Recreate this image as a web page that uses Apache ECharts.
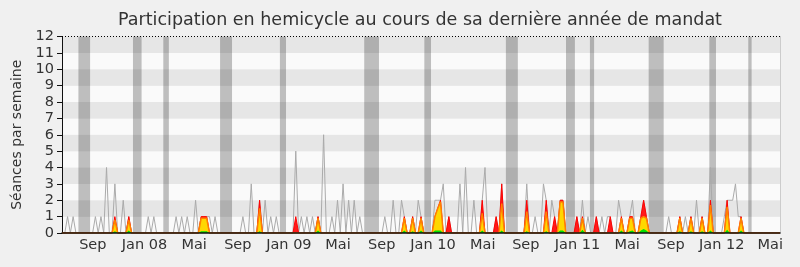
<!DOCTYPE html>
<html>
<head>
<meta charset="utf-8">
<script src="https://cdn.jsdelivr.net/npm/echarts@6/dist/echarts.min.js"></script>
<style>
html,body{margin:0;padding:0;background:#f0f0f0;}
#c{width:800px;height:267px;}
</style>
</head>
<body>
<div id="c"></div>
<script>
// ---- data (one value per week, week 0 = first week of the period) ----
const seancesTotal = [
/*0*/   0,0,1,0,1,0,0,0,0,0, 0,0,1,0,1,0,4,0,0,3,
/*20*/  0,0,2,0,1,0,0,0,0,0, 0,1,0,1,0,0,0,0,0,0,
/*40*/  0,1,0,1,0,1,0,0,2,0, 1,1,1,1,0,1,0,0,0,0,
/*60*/  0,0,0,0,0,1,0,0,3,0, 0,2,0,2,0,1,0,1,0,0,
/*80*/  0,0,0,0,5,0,1,0,1,0, 1,0,1,0,6,0,0,1,0,2,
/*100*/ 0,3,0,2,0,2,0,1,0,0, 0,0,0,0,0,0,1,0,0,2,
/*120*/ 0,0,2,1,0,0,1,0,2,1, 0,0,0,0,2,2,2,3,0,1,
/*140*/ 0,0,0,3,0,4,0,0,2,0, 0,2,4,0,0,0,1,0,3,0,
/*160*/ 0,0,0,0,0,0,0,3,0,0, 1,0,0,3,2,0,2,1,0,2,
/*180*/ 2,0,0,0,0,1,0,2,0,1, 0,0,1,0,1,0,1,1,0,0,
/*200*/ 2,1,0,0,1,2,0,0,1,2, 1,0,0,0,0,0,0,0,1,0,
/*220*/ 0,0,1,0,1,0,1,0,2,0, 1,0,0,4,0,0,0,0,1,2,
/*240*/ 2,2,3,1,1,0,0,0,0,0, 0,0,0,0,0,0,0,0,0
];
const presences = [
/*0*/   0,0,0,0,0,0,0,0,0,0, 0,0,0,0,0,0,0,0,0,1,
/*20*/  0,0,0,0,1,0,0,0,0,0, 0,0,0,0,0,0,0,0,0,0,
/*40*/  0,0,0,0,0,0,0,0,0,0, 1,1,1,0,0,0,0,0,0,0,
/*60*/  0,0,0,0,0,0,0,0,0,0, 0,2,0,0,0,0,0,0,0,0,
/*80*/  0,0,0,0,1,0,0,0,0,0, 0,0,1,0,0,0,0,0,0,0,
/*100*/ 0,0,0,0,0,0,0,0,0,0, 0,0,0,0,0,0,0,0,0,0,
/*120*/ 0,0,0,1,0,0,1,0,0,1, 0,0,0,0,1,1.5,2,0,0,1,
/*140*/ 0,0,0,0,0,0,0,0,0,0, 0,2,0,0,0,0,1,0,3,0,
/*160*/ 0,0,0,0,0,0,0,2,0,0, 0,0,0,0,2,0,0,1,0,2,
/*180*/ 2,0,0,0,0,1,0,1,0,0, 0,0,1,0,0,0,0,1,0,0,
/*200*/ 0,1,0,0,1,1,0,0,1,2, 1,0,0,0,0,0,0,0,0,0,
/*220*/ 0,0,1,0,0,0,1,0,0,0, 1,0,0,2,0,0,0,0,0,2,
/*240*/ 0,0,0,0,1,0,0,0,0,0, 0,0,0,0,0,0,0,0,0
];
const participations = [
/*0*/   0,0,0,0,0,0,0,0,0,0, 0,0,0,0,0,0,0,0,0,0.8,
/*20*/  0,0,0,0,0.8,0,0,0,0,0, 0,0,0,0,0,0,0,0,0,0,
/*40*/  0,0,0,0,0,0,0,0,0,0, 0.9,0.9,0.9,0,0,0,0,0,0,0,
/*60*/  0,0,0,0,0,0,0,0,0,0, 0,1.5,0,0,0,0,0,0,0,0,
/*80*/  0,0,0,0,0,0,0,0,0,0, 0,0,0.9,0,0,0,0,0,0,0,
/*100*/ 0,0,0,0,0,0,0,0,0,0, 0,0,0,0,0,0,0,0,0,0,
/*120*/ 0,0,0,0.9,0,0,0.9,0,0,0.9, 0,0,0,0,1,1.5,1.9,0,0,0,
/*140*/ 0,0,0,0,0,0,0,0,0,0, 0,1.2,0,0,0,0,0,0,1.8,0,
/*160*/ 0,0,0,0,0,0,0,1.3,0,0, 0,0,0,0,1.3,0,0,0,0,1.9,
/*180*/ 1.9,0,0,0,0,0,0,0.9,0,0, 0,0,0,0,0,0,0,0,0,0,
/*200*/ 0,0.9,0,0,0.9,0.9,0,0,0.9,1, 0.9,0,0,0,0,0,0,0,0,0,
/*220*/ 0,0,0.9,0,0,0,0.9,0,0,0, 0.9,0,0,1.7,0,0,0,0,0,1.6,
/*240*/ 0,0,0,0,0.9,0,0,0,0,0, 0,0,0,0,0,0,0,0,0
];
const questions = [
/*0*/   0,0,0,0,0,0,0,0,0,0, 0,0,0,0,0,0,0,0,0,0.1,
/*20*/  0,0,0,0,0.15,0,0,0,0,0, 0,0,0,0,0,0,0,0,0,0,
/*40*/  0,0,0,0,0,0,0,0,0,0, 0.1,0.1,0.1,0,0,0,0,0,0,0,
/*60*/  0,0,0,0,0,0,0,0,0,0, 0,0.1,0,0,0,0,0,0,0,0,
/*80*/  0,0,0,0,0,0,0,0,0,0, 0,0,0.15,0,0,0,0,0,0,0,
/*100*/ 0,0,0,0,0,0,0,0,0,0, 0,0,0,0,0,0,0,0,0,0,
/*120*/ 0,0,0,0.15,0,0,0.1,0,0,0.15, 0,0,0,0,0.15,0.15,0.15,0,0,0,
/*140*/ 0,0,0,0,0,0,0,0,0,0, 0,0.15,0,0,0,0,0,0,0.15,0,
/*160*/ 0,0,0,0,0,0,0,0.1,0,0, 0,0,0,0,0.1,0,0,0,0,0.15,
/*180*/ 0.15,0,0,0,0,0,0,0.2,0,0, 0,0,0,0,0,0,0,0,0,0,
/*200*/ 0,0.15,0,0,0.1,0.15,0,0,0.15,0.25, 0.15,0,0,0,0,0,0,0,0,0,
/*220*/ 0,0,0.1,0,0,0,0.1,0,0,0, 0.1,0,0,0.15,0,0,0,0,0,0.2,
/*240*/ 0,0,0,0,0.15,0,0,0,0,0, 0,0,0,0,0,0,0,0,0
];
// parliamentary holidays (start week, end week)
const vacances = [
  [5.9,10.1],[25.5,28.6],[36.4,38.4],[56.8,61.1],[78.3,80.5],[108.6,113.9],
  [130.2,132.6],[159.5,163.8],[181.1,184.3],[189.7,191.2],[210.8,216.2],
  [232.6,235.0],[246.6,247.8]
];
// x tick labels (position in weeks, text)
const tickWeeks = [11.07,29.64,47.50,63.17,81.53,99.17,114.88,133.31,151.21,166.66,185.23,203.09,218.83,237.05,254.52];
const tickLabels = ['Sep','Jan 08','Mai','Sep','Jan 09','Mai','Sep','Jan 10','Mai','Sep','Jan 11','Mai','Sep','Jan 12','Mai'];
const yMax = 12;
const nWeeks = 258;

const FONT = 'DejaVu Sans';
const toPairs = a => a.map((v,i)=>[i,v]);

const chart = echarts.init(document.getElementById('c'), null, {renderer:'canvas'});
chart.setOption({
  backgroundColor:'#f0f0f0',
  animation:false,
  title:{
    text:'Participation en hemicycle au cours de sa dernière année de mandat',
    left:415, top:6, textAlign:'center',
    textStyle:{fontFamily:FONT, fontSize:17.5, fontWeight:'normal', color:'#333'}
  },
  grid:{left:62, right:20, top:36.5, bottom:34, containLabel:false},
  xAxis:{
    type:'value', min:0, max:nWeeks, z:10,
    axisLine:{show:true, lineStyle:{color:'#111', width:1.5}},
    axisTick:{show:false},
    splitLine:{show:false},
    axisLabel:{
      customValues:tickWeeks, margin:5,
      fontFamily:FONT, fontSize:14.5, color:'#333',
      formatter:function(v){
        let best=0, d=1e9;
        tickWeeks.forEach((t,i)=>{ if(Math.abs(t-v)<d){d=Math.abs(t-v);best=i;} });
        return tickLabels[best];
      }
    }
  },
  yAxis:[{
    type:'value', min:0, max:yMax, interval:1, z:0,
    name:'Séances par semaine', nameLocation:'middle', nameGap:37,
    nameTextStyle:{fontFamily:FONT, fontSize:14, color:'#333'},
    axisLine:{show:true, lineStyle:{color:'#111', width:1}},
    axisTick:{show:true, length:5, lineStyle:{color:'#111'}},
    axisLabel:{fontFamily:FONT, fontSize:14.5, color:'#333', margin:8},
    splitLine:{show:false},
    splitArea:{show:true, areaStyle:{color:['#fafafa','#e6e6e6']}}
  },{
    type:'value', min:0, max:yMax, position:'right', z:0,
    axisLine:{show:true, lineStyle:{color:'#cccccc', width:1}},
    axisTick:{show:false}, axisLabel:{show:false}, splitLine:{show:false}
  }],
  series:[
    {
      name:'vacances', type:'line', data:[], z:1, silent:true,
      markArea:{silent:true, itemStyle:{color:'rgba(0,0,0,0.24)'},
        data:vacances.map(v=>[{xAxis:v[0]},{xAxis:v[1]}])},
      markLine:{silent:true, symbol:'none', label:{show:false},
        lineStyle:{color:'#000', width:1, type:[1,2]},
        data:[{yAxis:yMax}]}
    },
    {
      name:'séances', type:'line', data:toPairs(seancesTotal), z:3,
      symbol:'none', lineStyle:{color:'#aaaaaa', width:1}
    },
    {
      name:'présences', type:'line', data:toPairs(presences), z:4,
      symbol:'none', lineStyle:{color:'#ff0000', width:1},
      areaStyle:{color:'#ff1a1a', opacity:1}
    },
    {
      name:'participations', type:'line', data:toPairs(participations), z:5,
      symbol:'none', lineStyle:{color:'#ff8000', width:1.5},
      areaStyle:{color:'#ffd700', opacity:1}
    },
    {
      name:'questions', type:'line', data:toPairs(questions), z:6,
      symbol:'none', lineStyle:{width:0},
      areaStyle:{color:'#00e000', opacity:1}
    }
  ]
});
</script>
</body>
</html>
